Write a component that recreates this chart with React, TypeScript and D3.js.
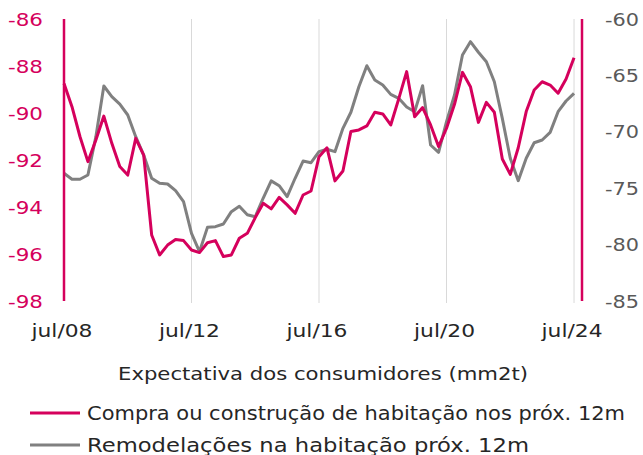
import React from 'react';
import * as d3 from 'd3';

// quarterly readings, jul/08 .. jul/24
const compra = [
  -88.74, -89.73, -91.0, -92.07, -91.15, -90.13, -91.29, -92.28, -92.64, -91.08,
  -91.79, -95.19, -96.04, -95.62, -95.38, -95.43, -95.83, -95.94, -95.52, -95.43,
  -96.11, -96.04, -95.33, -95.12, -94.45, -93.84, -94.08, -93.59, -93.91, -94.27,
  -93.49, -93.32, -91.86, -91.48, -92.89, -92.47, -90.79, -90.72, -90.55, -89.97,
  -90.04, -90.51, -89.4, -88.24, -90.16, -89.77, -90.51, -91.43, -90.65, -89.63,
  -88.27, -88.88, -90.4, -89.55, -89.97, -91.96, -92.61, -91.48, -89.94, -89.02,
  -88.67, -88.81, -89.16, -88.55, -87.65,
];

const remodelacoes = [
  -73.68, -74.21, -74.21, -73.83, -70.43, -65.94, -66.89, -67.54, -68.51, -70.43,
  -72.06, -74.12, -74.57, -74.63, -75.22, -76.19, -79.0, -80.63, -78.47, -78.41,
  -78.17, -77.08, -76.6, -77.35, -77.53, -75.87, -74.35, -74.78, -75.75, -74.12,
  -72.59, -72.74, -71.76, -71.55, -71.76, -69.69, -68.27, -66.0, -64.14, -65.41,
  -65.85, -66.68, -67.03, -67.8, -68.22, -65.91, -71.17, -71.82, -69.1, -66.74,
  -63.19, -62.01, -62.95, -63.79, -65.56, -68.81, -72.35, -74.33, -72.35, -70.97,
  -70.73, -70.05, -68.22, -67.27, -66.59,
];

const xTickIdx = [0, 16, 32, 48, 64];
const xTickLabels = ['jul/08', 'jul/12', 'jul/16', 'jul/20', 'jul/24'];
const leftTicks = [-86, -88, -90, -92, -94, -96, -98];
const rightTicks = [-60, -65, -70, -75, -80, -85];

const legendLabels = [
  'Compra ou construção de habitação nos próx. 12m',
  'Remodelações na habitação próx. 12m',
];
const legendWidths = [538, 442];
const title = 'Expectativa dos consumidores (mm2t)';

const PINK = '#d5005c';
const GREY = '#808080';
const FONT = '"DejaVu Sans", sans-serif';

export default function App() {
  // dimensions
  const width = 643;
  const height = 455;
  const left = 64;
  const right = 582;
  const top = 19;
  const bottom = 301;

  // scales
  const x = d3.scaleLinear().domain([0, 65]).range([left, right]);
  const yL = d3.scaleLinear().domain([-98, -86]).range([bottom, top]);
  const yR = d3.scaleLinear().domain([-85, -60]).range([bottom, top]);

  const lineL = d3.line<number>().x((_, i) => x(i)).y(d => yL(d));
  const lineR = d3.line<number>().x((_, i) => x(i)).y(d => yR(d));

  return (
    <div style={{ position: 'absolute', left: 0, top: 0 }}>
      <svg width={width} height={height} style={{ display: 'block', fontFamily: FONT }}>
        {/* grid */}
        {xTickIdx.slice(1).map(i => (
          <line key={i} x1={x(i)} x2={x(i)} y1={top} y2={bottom + 2} stroke="#d9d9d9" strokeWidth={1} />
        ))}

        {/* series */}
        <path d={lineR(remodelacoes) || ''} fill="none" stroke={GREY} strokeWidth={3} strokeLinejoin="round" />
        <path d={lineL(compra) || ''} fill="none" stroke={PINK} strokeWidth={3} strokeLinejoin="round" />

        {/* axis lines */}
        <line x1={left} x2={left} y1={top} y2={bottom} stroke={PINK} strokeWidth={2.5} />
        <line x1={right} x2={right} y1={top} y2={bottom} stroke={PINK} strokeWidth={2.5} />

        {/* left ticks */}
        {leftTicks.map(t => (
          <text key={t} x={43} y={yL(t)} textAnchor="end" dominantBaseline="central"
            fill={PINK} fontSize={18} textLength={35} lengthAdjust="spacingAndGlyphs">{t}</text>
        ))}
        {/* right ticks */}
        {rightTicks.map(t => (
          <text key={t} x={605} y={yR(t)} textAnchor="start" dominantBaseline="central"
            fill="#595959" fontSize={18} textLength={34} lengthAdjust="spacingAndGlyphs">{t}</text>
        ))}
        {/* x ticks */}
        {xTickIdx.map((i, k) => (
          <text key={i} x={x(i) - 2} y={330} textAnchor="middle" dominantBaseline="central"
            fill="#262626" fontSize={18} textLength={61} lengthAdjust="spacingAndGlyphs">{xTickLabels[k]}</text>
        ))}

        {/* title */}
        <text x={323} y={373} textAnchor="middle" dominantBaseline="central" fill="#262626" fontSize={18.5}
          textLength={410} lengthAdjust="spacingAndGlyphs">
          {title}
        </text>

        {/* legend */}
        {legendLabels.map((lab, k) => (
          <g key={lab} transform={`translate(0,${413 + k * 32})`}>
            <line x1={30} x2={80} y1={0} y2={0} stroke={k === 0 ? PINK : GREY} strokeWidth={3} />
            <text x={87} y={0} dominantBaseline="central" fill="#262626" fontSize={19}
              textLength={legendWidths[k]} lengthAdjust="spacingAndGlyphs">{lab}</text>
          </g>
        ))}
      </svg>
    </div>
  );
}
